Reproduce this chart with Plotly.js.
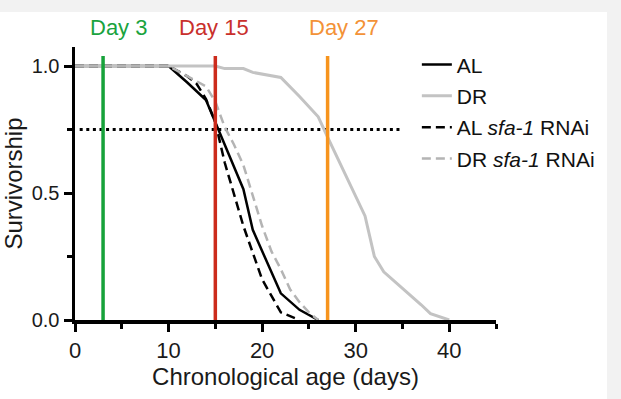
<!DOCTYPE html>
<html>
<head>
<meta charset="utf-8">
<script src="https://cdn.plot.ly/plotly-3.0.1.min.js"></script>
<style>
  html, body { margin: 0; padding: 0; background: #f2f2f2; width: 621px; height: 399px; overflow: hidden; }
  #chart { position: absolute; left: 0; top: 12px; width: 607px; height: 387px; background: #ffffff; }
</style>
</head>
<body>
<div id="chart"></div>
<script>
// ---- data ----
const alX = [0, 10, 12, 14, 18, 19, 22, 24, 26];
const alY = [1, 1, 0.935, 0.866, 0.515, 0.355, 0.105, 0.04, 0];

const drX = [0, 15, 16, 18, 19, 22, 24, 26, 27, 31, 32, 33, 37, 38, 40];
const drY = [1, 1, 0.99, 0.99, 0.975, 0.955, 0.88, 0.80, 0.72, 0.41, 0.25, 0.19, 0.06, 0.025, 0];

const alRnaiX = [0, 10, 11, 12, 13, 14, 15, 16, 18, 20, 22, 24];
const alRnaiY = [1, 1, 0.98, 0.96, 0.93, 0.87, 0.78, 0.62, 0.37, 0.16, 0.03, 0];

const drRnaiX = [0, 10, 12, 14, 15, 16, 17, 18, 19, 20, 21, 22, 23, 24, 25, 26];
const drRnaiY = [1, 1, 0.96, 0.92, 0.86, 0.76, 0.69, 0.61, 0.49, 0.37, 0.27, 0.2, 0.12, 0.07, 0.03, 0];

const seriesNames = ['AL', 'DR', 'AL <i>sfa-1</i> RNAi', 'DR <i>sfa-1</i> RNAi'];

const markerDays = [3, 15, 27];
const markerLabels = ['Day 3', 'Day 15', 'Day 27'];
const markerColors = ['#17a23a', '#cc2b1c', '#f7941d'];
const markerTextColors = ['#1aa33e', '#c9302c', '#f39237'];

const halfSurvival = 0.75;       // dotted reference level
const refLineX = [0.5, 35];

const xTickVals = [0, 10, 20, 30, 40];
const yTickVals = [0, 0.5, 1.0];
const yTickText = ['0.0', '0.5', '1.0'];

// ---- traces ----
const FONT = '"Liberation Sans", Arial, Helvetica, sans-serif';
const TXT = '#1a1a1a';
const traces = [];

traces.push({
  x: refLineX, y: [halfSurvival, halfSurvival], mode: 'lines',
  line: { color: '#000', width: 3, dash: '3px,3.6px' },
  showlegend: false, hoverinfo: 'skip'
});

const lineStyles = [
  { color: '#000000', width: 2.5, dash: 'solid' },
  { color: '#c3c3c3', width: 3, dash: 'solid' },
  { color: '#000000', width: 2.5, dash: '9px,5px' },
  { color: '#b4b4b4', width: 2.5, dash: '9px,5px' }
];
const xs = [alX, drX, alRnaiX, drRnaiX];
const ys = [alY, drY, alRnaiY, drRnaiY];
for (let i = 0; i < 4; i++) {
  traces.push({
    x: xs[i], y: ys[i], mode: 'lines', name: seriesNames[i],
    legendgroup: 'g' + i,
    line: lineStyles[i], showlegend: true
  });
}

for (let i = 0; i < markerDays.length; i++) {
  traces.push({
    x: [markerDays[i], markerDays[i]], y: [0, 1.04], mode: 'lines',
    line: { color: markerColors[i], width: 3.5 },
    showlegend: false, hoverinfo: 'skip'
  });
}

const labelCenters = [4.6, 14.9, 28.8];
const annotations = markerLabels.map((t, i) => ({
  text: t, x: labelCenters[i], xref: 'x', y: 1.07, yref: 'paper',
  xanchor: 'center', yanchor: 'middle', showarrow: false,
  font: { family: FONT, size: 22, color: markerTextColors[i] }
}));

const layout = {
  width: 607, height: 387,
  margin: { l: 75, r: 111, t: 35, b: 79, autoexpand: false },
  paper_bgcolor: '#ffffff', plot_bgcolor: '#ffffff',
  font: { family: FONT, size: 21, color: TXT },
  showlegend: true,
  legend: {
    x: 0.812, xanchor: 'left', y: 1.0095, yanchor: 'top',
    bgcolor: 'rgba(0,0,0,0)', font: { family: FONT, size: 21, color: '#111' },
    traceorder: 'grouped', tracegroupgap: 1
  },
  xaxis: {
    range: [0, 45], showgrid: false, zeroline: false,
    showline: true, linecolor: '#000', linewidth: 3.5,
    ticks: 'outside', ticklen: 8, tickwidth: 3, tickcolor: '#000',
    tickvals: xTickVals, tickfont: { family: FONT, size: 22, color: TXT },
    minor: { dtick: 10, tick0: 5, ticks: 'outside', ticklen: 5, tickwidth: 3, tickcolor: '#000', showgrid: false },
    title: { text: 'Chronological age (days)', font: { family: FONT, size: 24, color: TXT }, standoff: 6 }
  },
  yaxis: {
    range: [0, 1.075], showgrid: false, zeroline: false,
    showline: true, linecolor: '#000', linewidth: 3.5,
    ticks: 'outside', ticklen: 8, tickwidth: 3, tickcolor: '#000',
    tickvals: yTickVals, ticktext: yTickText, tickfont: { family: FONT, size: 20, color: TXT },
    minor: { dtick: 0.5, tick0: 0.25, ticks: 'outside', ticklen: 5, tickwidth: 3, tickcolor: '#000', showgrid: false },
    title: { text: 'Survivorship', font: { family: FONT, size: 24, color: TXT }, standoff: 4 }
  },
  annotations: annotations
};

Plotly.newPlot('chart', traces, layout, { displayModeBar: false, staticPlot: true });
</script>
</body>
</html>
